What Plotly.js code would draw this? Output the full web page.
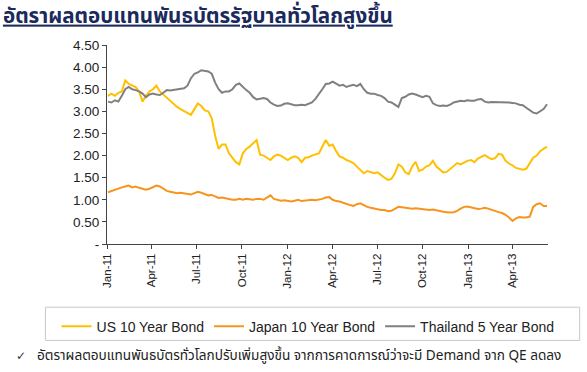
<!DOCTYPE html>
<html>
<head>
<meta charset="utf-8">
<script src="https://cdn.plot.ly/plotly-3.0.1.min.js"></script>
<style>
html,body{margin:0;padding:0;background:#fff;}
#chart{width:587px;height:372px;}
</style>
</head>
<body>
<div id="chart"></div>
<script>
var dates = [
"2011-01-03","2011-01-10","2011-01-17","2011-01-24","2011-01-31","2011-02-07","2011-02-14","2011-02-21","2011-02-28",
"2011-03-07","2011-03-14","2011-03-21","2011-03-28","2011-04-04","2011-04-11","2011-04-18","2011-04-25",
"2011-05-02","2011-05-09","2011-05-16","2011-05-23","2011-05-30","2011-06-06","2011-06-13","2011-06-20","2011-06-27",
"2011-07-04","2011-07-11","2011-07-18","2011-07-25","2011-08-01","2011-08-08","2011-08-15","2011-08-22","2011-08-29",
"2011-09-05","2011-09-12","2011-09-19","2011-09-26","2011-10-03","2011-10-10","2011-10-17","2011-10-24","2011-10-31",
"2011-11-07","2011-11-14","2011-11-21","2011-11-28","2011-12-05","2011-12-12","2011-12-19","2011-12-26",
"2012-01-02","2012-01-09","2012-01-16","2012-01-23","2012-01-30","2012-02-06","2012-02-13","2012-02-20","2012-02-27",
"2012-03-05","2012-03-12","2012-03-19","2012-03-26","2012-04-02","2012-04-09","2012-04-16","2012-04-23","2012-04-30",
"2012-05-07","2012-05-14","2012-05-21","2012-05-28","2012-06-04","2012-06-11","2012-06-18","2012-06-25",
"2012-07-02","2012-07-09","2012-07-16","2012-07-23","2012-07-30","2012-08-06","2012-08-13","2012-08-20","2012-08-27",
"2012-09-03","2012-09-10","2012-09-17","2012-09-24","2012-10-01","2012-10-08","2012-10-15","2012-10-22","2012-10-29",
"2012-11-05","2012-11-12","2012-11-19","2012-11-26","2012-12-03","2012-12-10","2012-12-17","2012-12-24","2012-12-31",
"2013-01-07","2013-01-14","2013-01-21","2013-01-28","2013-02-04","2013-02-11","2013-02-18","2013-02-25",
"2013-03-04","2013-03-11","2013-03-18","2013-03-25","2013-04-01","2013-04-08","2013-04-15","2013-04-22","2013-04-29",
"2013-05-06","2013-05-13","2013-05-20","2013-05-27","2013-06-03","2013-06-10"
];

var us10 = [
3.35,3.40,3.35,3.42,3.45,3.70,3.62,3.58,3.55,3.45,3.22,3.35,3.45,3.50,3.58,3.45,
3.38,3.30,3.22,3.15,3.10,3.05,3.00,2.95,2.92,3.05,3.18,3.12,3.02,3.00,2.85,2.45,
2.15,2.25,2.25,2.05,1.95,1.85,1.80,2.05,2.15,2.20,2.28,2.35,2.02,2.00,1.95,1.90,
1.98,2.02,2.00,1.95,1.90,1.95,1.98,1.95,1.85,1.95,1.96,2.00,2.02,2.05,2.20,2.35,
2.22,2.25,2.10,1.98,1.95,1.90,1.87,1.83,1.75,1.68,1.60,1.65,1.62,1.60,1.62,1.55,
1.50,1.45,1.47,1.60,1.80,1.75,1.62,1.58,1.75,1.86,1.65,1.68,1.75,1.78,1.88,1.75,
1.68,1.62,1.63,1.70,1.78,1.83,1.80,1.85,1.88,1.90,1.85,1.93,1.98,2.01,1.96,1.92,
1.94,2.04,2.02,1.88,1.82,1.78,1.72,1.70,1.68,1.70,1.82,1.95,2.00,2.10,2.15,2.20
];

var japan10 = [
1.17,1.20,1.22,1.25,1.28,1.30,1.32,1.28,1.30,1.27,1.25,1.23,1.25,1.28,1.32,1.30,
1.25,1.20,1.18,1.17,1.15,1.16,1.15,1.13,1.12,1.15,1.18,1.16,1.13,1.10,1.11,1.07,
1.04,1.05,1.03,1.02,1.00,1.00,1.02,1.00,1.02,1.01,1.00,1.02,1.02,1.00,1.05,1.10,
1.02,1.00,0.98,0.99,0.98,0.96,0.98,1.00,0.97,0.98,0.99,1.00,0.99,1.00,1.02,1.05,
1.06,1.00,0.97,0.96,0.93,0.90,0.88,0.86,0.90,0.92,0.88,0.84,0.82,0.80,0.78,0.77,
0.77,0.74,0.75,0.80,0.84,0.83,0.82,0.80,0.80,0.81,0.80,0.78,0.77,0.77,0.78,0.76,
0.74,0.73,0.72,0.71,0.72,0.75,0.80,0.84,0.85,0.83,0.80,0.79,0.80,0.82,0.80,0.77,
0.75,0.72,0.70,0.66,0.60,0.52,0.58,0.61,0.60,0.60,0.62,0.84,0.90,0.92,0.86,0.86
];

var thai5 = [
3.22,3.20,3.25,3.22,3.35,3.50,3.55,3.50,3.48,3.45,3.40,3.32,3.38,3.40,3.38,3.37,
3.42,3.48,3.47,3.48,3.50,3.50,3.52,3.58,3.75,3.85,3.88,3.93,3.92,3.90,3.85,3.65,
3.50,3.42,3.45,3.45,3.50,3.60,3.63,3.55,3.48,3.42,3.32,3.27,3.28,3.30,3.28,3.20,
3.15,3.12,3.13,3.17,3.18,3.16,3.14,3.14,3.15,3.14,3.17,3.20,3.28,3.38,3.50,3.62,
3.63,3.67,3.62,3.58,3.60,3.55,3.58,3.60,3.57,3.62,3.50,3.42,3.40,3.40,3.37,3.35,
3.30,3.22,3.20,3.15,3.10,3.30,3.33,3.38,3.40,3.38,3.35,3.32,3.35,3.33,3.18,3.14,
3.12,3.13,3.12,3.15,3.20,3.22,3.24,3.23,3.25,3.24,3.24,3.27,3.28,3.22,3.20,3.21,
3.21,3.20,3.21,3.20,3.20,3.19,3.18,3.15,3.14,3.08,3.02,2.97,2.95,3.00,3.05,3.16
];

var seriesNames = ["US 10 Year Bond","Japan 10 Year Bond","Thailand 5 Year Bond"];
var seriesColors = ["#FFC000","#F7941D","#808080"];

var xTickVals = ["2011-01-01","2011-04-01","2011-07-01","2011-10-01","2012-01-01","2012-04-01","2012-07-01","2012-10-01","2013-01-01","2013-04-01"];
var xTickText = ["Jan-11","Apr-11","Jul-11","Oct-11","Jan-12","Apr-12","Jul-12","Oct-12","Jan-13","Apr-13"];
var yTickVals = [0,0.5,1,1.5,2,2.5,3,3.5,4,4.5];
var yTickText = ["-","0.50","1.00","1.50","2.00","2.50","3.00","3.50","4.00","4.50"];

var titleText = "อัตราผลตอบแทนพันธบัตรรัฐบาลทั่วโลกสูงขึ้น";
var noteText = "อัตราผลตอบแทนพันธบัตรทั่วโลกปรับเพิ่มสูงขึ้น จากการคาดการณ์ว่าจะมี Demand จาก QE ลดลง";

var allSeries = [us10, japan10, thai5];
var traces = allSeries.map(function(vals, k){
  return {
    type: "scatter", mode: "lines",
    x: dates, y: vals, name: seriesNames[k],
    line: {color: seriesColors[k], width: 2}
  };
});

var axisFont = "Liberation Sans, Arial, sans-serif";
var thaiFont = "Noto Sans Thai, Noto Sans Thai UI, Noto Sans, DejaVu Sans, sans-serif";

var layout = {
  width: 587, height: 372,
  paper_bgcolor: "#ffffff", plot_bgcolor: "#ffffff",
  margin: {l: 107, r: 39, t: 45, b: 128, pad: 0},
  showlegend: true,
  title: {
    text: titleText,
    font: {family: thaiFont, size: 20.6, color: "#1B2A5C", weight: "bold", lineposition: "under"},
    xref: "container", yref: "container",
    x: 0.005, xanchor: "left", y: 0.978, yanchor: "top"
  },
  xaxis: {
    type: "date",
    range: ["2011-01-01","2013-06-12"],
    tickvals: xTickVals, ticktext: xTickText,
    tickangle: -90,
    ticks: "outside", ticklen: 4, tickcolor: "#444", tickwidth: 1,
    showline: true, linecolor: "#444", linewidth: 1,
    showgrid: false, zeroline: false,
    tickfont: {family: axisFont, size: 11.5, color: "#222"}
  },
  yaxis: {
    range: [0, 4.5],
    tickvals: yTickVals, ticktext: yTickText,
    ticks: "outside", ticklen: 4, tickcolor: "#444", tickwidth: 1,
    showline: true, linecolor: "#444", linewidth: 1,
    showgrid: false, zeroline: false,
    tickfont: {family: axisFont, size: 13.5, color: "#222"}
  },
  legend: {
    orientation: "h",
    x: -0.1144, xanchor: "left",
    y: -0.335, yanchor: "top",
    bgcolor: "rgba(0,0,0,0)",
    borderwidth: 0,
    itemwidth: 30,
    font: {family: axisFont, size: 14, color: "#222"}
  },
  shapes: [{
    type: "rect", xref: "paper", yref: "paper",
    x0: -0.1397, x1: 1.0718, y0: -0.3176, y1: -0.4845,
    line: {color: "#C8C8C8", width: 1}, fillcolor: "rgba(0,0,0,0)"
  }],
  annotations: [
    {text: "✓", xref: "paper", yref: "paper",
     x: (14-107)/441.6, y: (244.3-357)/199.6, xanchor: "left", yanchor: "middle",
     showarrow: false, font: {family: "DejaVu Sans, sans-serif", size: 12, color: "#333"}},
    {text: noteText, xref: "paper", yref: "paper",
     x: (35-107)/441.6, y: (244.3-357)/199.6, xanchor: "left", yanchor: "middle",
     showarrow: false, font: {family: thaiFont, size: 13.6, color: "#222"}}
  ]
};

Plotly.newPlot("chart", traces, layout, {displayModeBar: false, staticPlot: true});
</script>
</body>
</html>
